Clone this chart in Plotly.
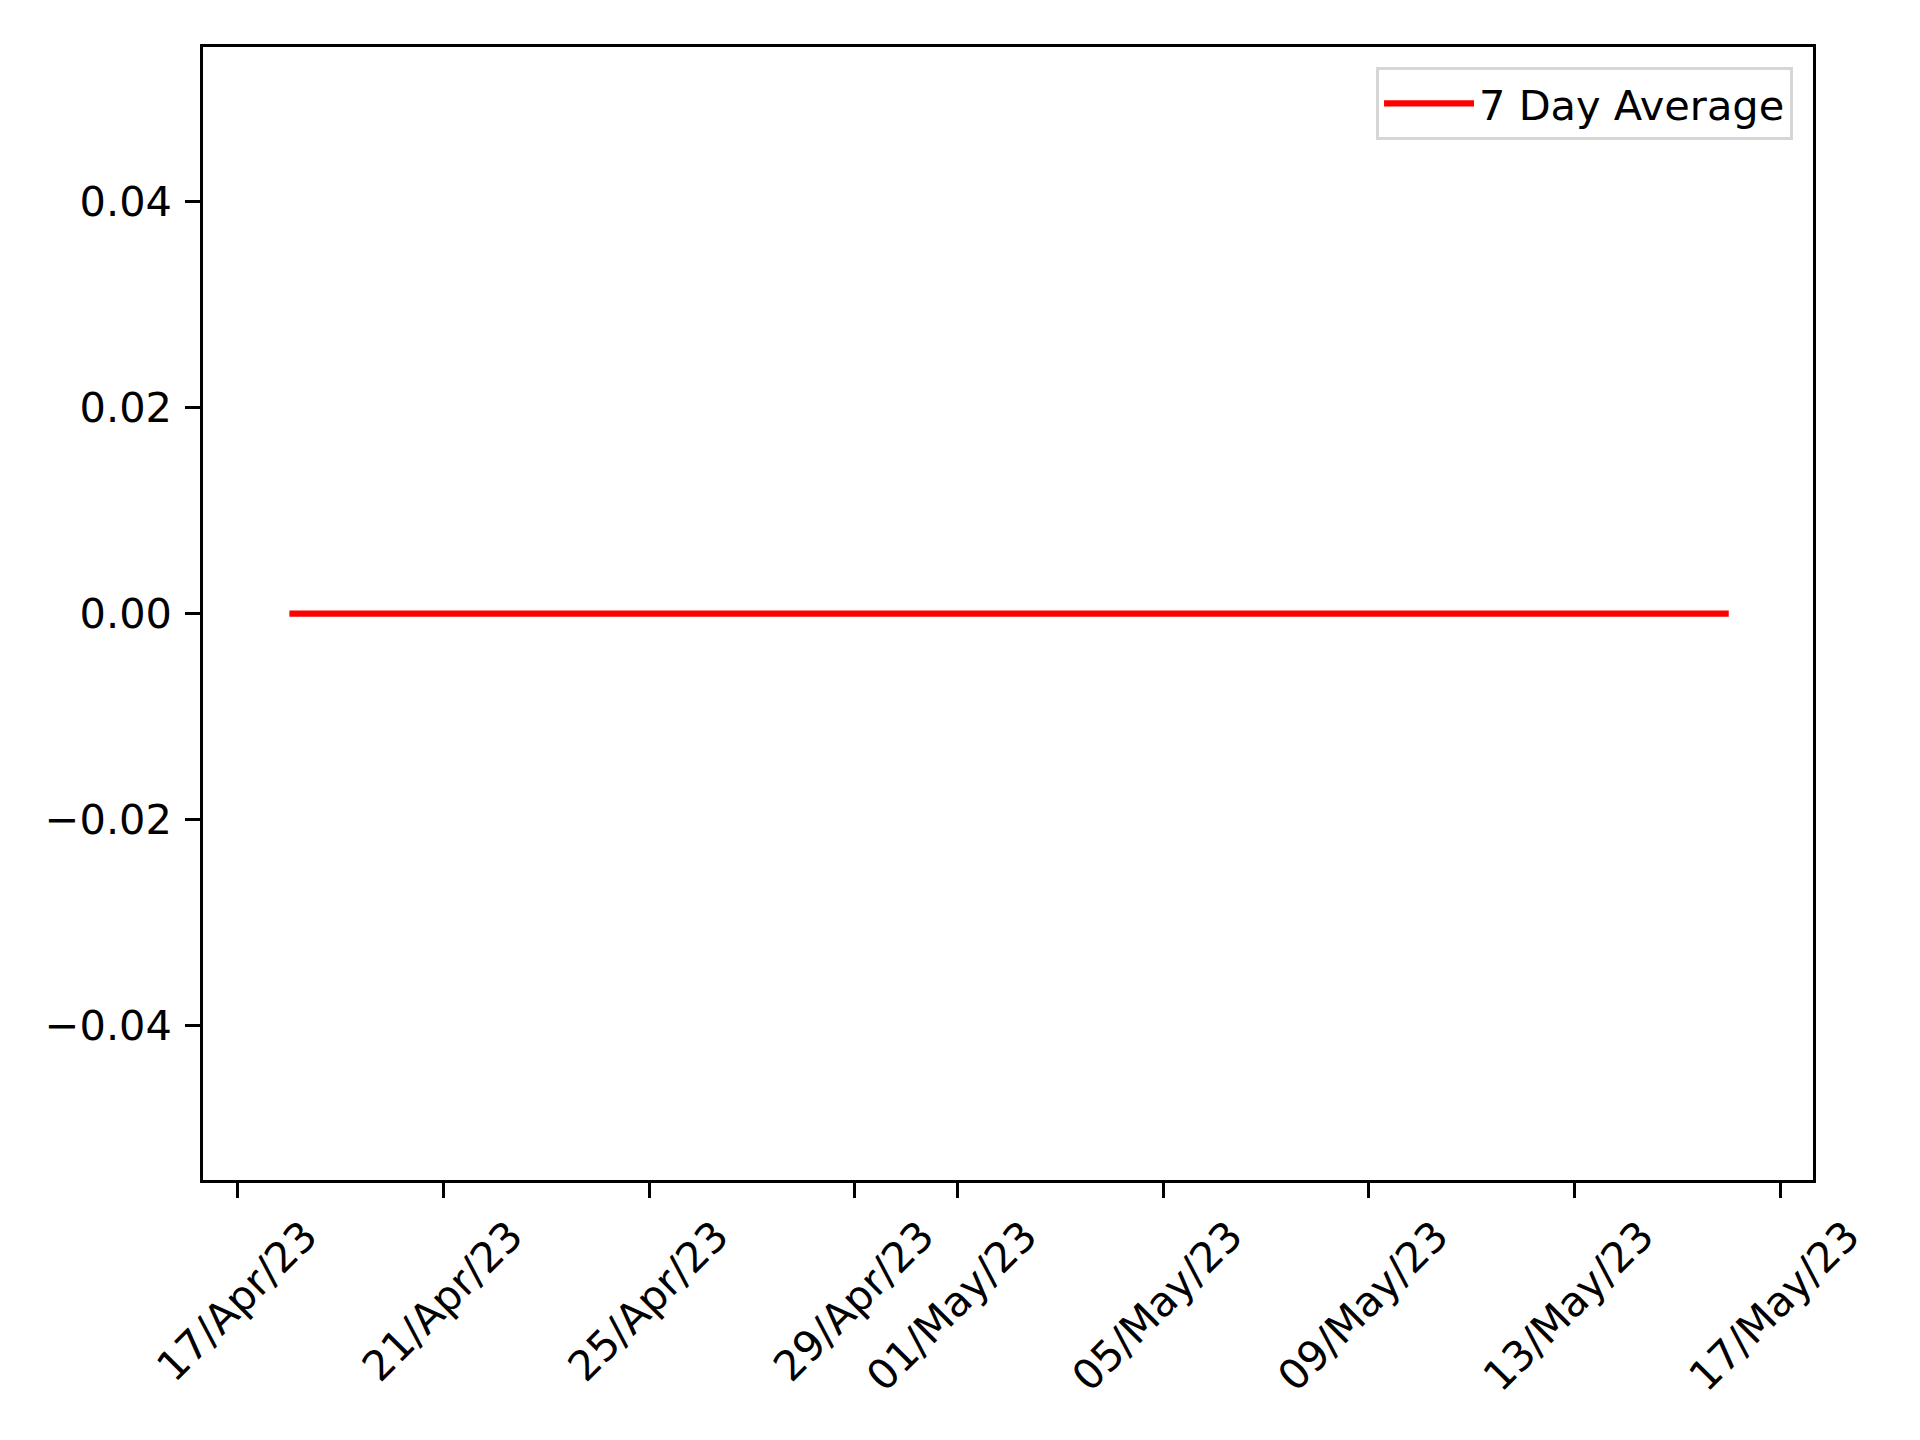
import plotly.graph_objects as go
import pandas as pd

# Data: 7-day average, all zero, 18 Apr 2023 to 16 May 2023
dates = pd.date_range("2023-04-18", "2023-05-16", freq="D")
avg_values = [0.0] * len(dates)

x_tick_dates = ["2023-04-17", "2023-04-21", "2023-04-25", "2023-04-29", "2023-05-01",
                "2023-05-05", "2023-05-09", "2023-05-13", "2023-05-17"]
x_tick_labels = ["17/Apr/23", "21/Apr/23", "25/Apr/23", "29/Apr/23", "01/May/23",
                 "05/May/23", "09/May/23", "13/May/23", "17/May/23"]
y_tick_vals = [-0.04, -0.02, 0.0, 0.02, 0.04]
y_tick_labels = ["\u22120.04", "\u22120.02", "0.00", "0.02", "0.04"]

FONT = "DejaVu Sans"
FS = 41.5
LW = 3.3

fig = go.Figure()
fig.add_trace(go.Scatter(
    x=dates, y=avg_values, mode="lines", name="7 Day Average",
    line=dict(color="red", width=6.25),
))

fig.update_layout(
    width=1904, height=1424,
    margin=dict(l=195, r=99, t=39, b=252),
    paper_bgcolor="white", plot_bgcolor="white",
    font=dict(family=FONT, size=FS, color="black"),
    showlegend=True,
    legend=dict(
        x=0.9876, y=0.9824, xanchor="right", yanchor="top",
        bordercolor="#d6d6d6", borderwidth=3, bgcolor="white",
        itemwidth=90,
        font=dict(family=FONT, size=FS, color="black"),
    ),
)
fig.update_xaxes(
    type="date",
    range=["2023-04-16 07:40", "2023-05-17 15:20"],
    tickvals=x_tick_dates, ticktext=x_tick_labels, tickangle=-45,
    ticklabelshift=67, ticklabelstandoff=-3,
    ticks="outside", ticklen=14.6, tickwidth=LW, tickcolor="black",
    showline=True, linecolor="black", linewidth=LW, mirror=True,
    showgrid=False, zeroline=False,
    tickfont=dict(family=FONT, size=FS, color="black"),
)
fig.update_yaxes(
    range=[-0.055, 0.055],
    tickvals=y_tick_vals, ticktext=y_tick_labels,
    ticks="outside", ticklen=14.6, tickwidth=LW, tickcolor="black",
    showline=True, linecolor="black", linewidth=LW, mirror=True,
    showgrid=False, zeroline=False,
    ticklabelstandoff=5,
    tickfont=dict(family=FONT, size=FS, color="black"),
)

fig.write_html("out.html")
